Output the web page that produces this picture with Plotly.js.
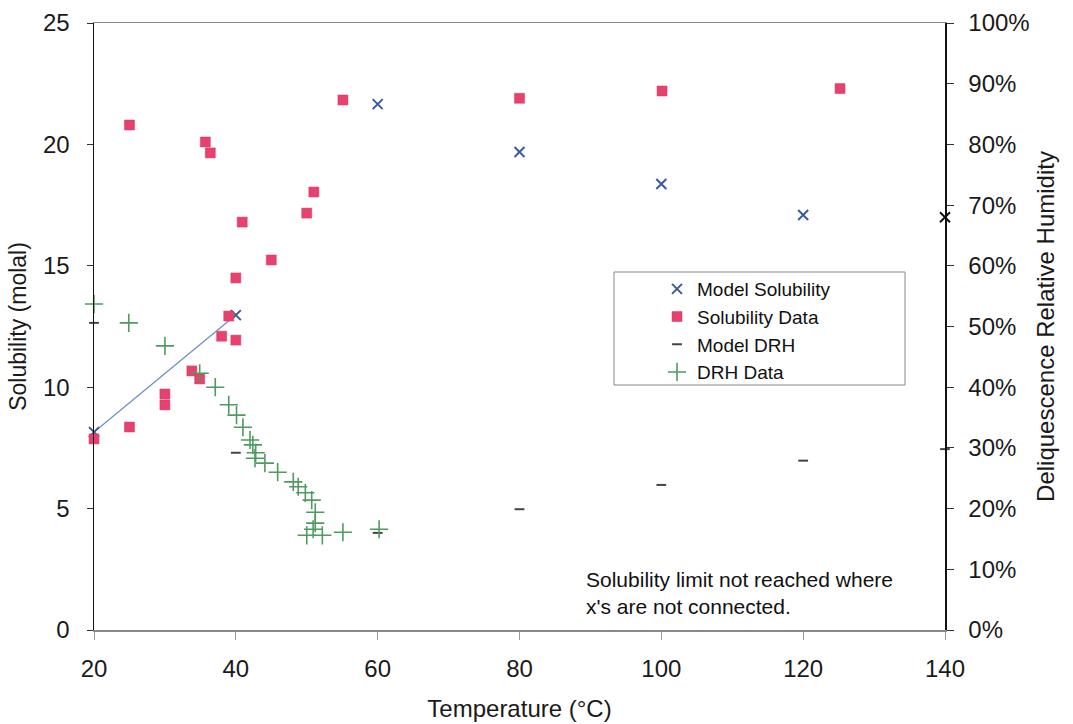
<!DOCTYPE html>
<html>
<head>
<meta charset="utf-8">
<script src="https://cdn.plot.ly/plotly-3.0.1.min.js"></script>
<style>
html,body{margin:0;padding:0;background:#fff;}
#chart{width:1073px;height:724px;}
</style>
</head>
<body>
<div id="chart"></div>
<script>
// Model solubility (molal) vs temperature (°C)
const modelSolT = [20, 40, 60, 80, 100, 120, 140];
const modelSol  = [8.15, 12.97, 21.66, 19.69, 18.37, 17.09, 17.0];
// Temperatures where model x's are connected (solubility limit reached)
const connectedT = [20, 40];

// Solubility data (molal)
const solDataT = [20, 25, 25, 30, 30, 33.8, 34.9, 35.7, 36.4, 38.0, 39.0, 40.0, 40.0, 40.9, 45.0, 50.0, 51.0, 55.1, 80.0, 100.1, 125.2];
const solData  = [7.87, 20.8, 8.36, 9.72, 9.27, 10.67, 10.34, 20.1, 19.65, 12.1, 12.93, 11.94, 14.5, 16.8, 15.24, 17.17, 18.04, 21.83, 21.9, 22.2, 22.3];

// Model DRH (%)
const modelDrhT = [20, 40, 60, 80, 100, 120, 140];
const modelDrh  = [50.6, 29.2, 16.0, 19.9, 23.9, 27.9, 29.8];

// DRH data (%)
const drhDataT = [20, 24.9, 30.0, 34.9, 37.1, 39.0, 40.1, 41.0, 42.0, 42.4, 42.8, 42.7, 44.1, 45.9, 48.1, 48.8, 49.8, 50.7, 51.2, 51.2, 50.9, 50.0, 52.2, 55.1, 60.2];
const drhData  = [53.7, 50.6, 46.8, 42.3, 40.0, 37.1, 35.4, 33.4, 31.3, 30.5, 29.2, 28.3, 27.5, 26.0, 24.4, 23.6, 22.6, 21.4, 19.4, 17.6, 16.6, 15.6, 15.6, 16.1, 16.6];

// Axis ticks
const xTicks = [20, 40, 60, 80, 100, 120, 140];
const yTicks = [0, 5, 10, 15, 20, 25];
const y2Ticks = [0, 10, 20, 30, 40, 50, 60, 70, 80, 90, 100];

const FONT = 'Liberation Sans, Arial, sans-serif';
const BLUE = '#3a5aa0';

const lineX = modelSolT.filter(t => connectedT.includes(t));
const lineY = modelSolT.map((t, i) => connectedT.includes(t) ? modelSol[i] : null).filter(v => v !== null);

const traces = [
  {
    x: lineX, y: lineY, mode: 'lines', type: 'scatter',
    line: {color: '#6b8cc8', width: 1.3}, showlegend: false, hoverinfo: 'skip'
  },
  {
    x: modelSolT, y: modelSol, name: 'Model Solubility', mode: 'markers', type: 'scatter', cliponaxis: false,
    marker: {symbol: 'x-thin-open', size: 10,
      color: modelSolT.map(t => t === 140 ? '#111111' : BLUE),
      line: {width: 2, color: modelSolT.map(t => t === 140 ? '#111111' : BLUE)}}
  },
  {
    x: solDataT, y: solData, name: 'Solubility Data', mode: 'markers', type: 'scatter', cliponaxis: false,
    marker: {symbol: 'square', size: 10, color: '#e8416e', line: {width: 0.5, color: '#d23a62'}}
  },
  {
    x: modelDrhT, y: modelDrh, name: 'Model DRH', mode: 'markers', type: 'scatter', yaxis: 'y2', cliponaxis: false,
    marker: {symbol: 'line-ew-open', size: 7, line: {width: 2, color: '#444444'}, color: '#444444'}
  },
  {
    x: drhDataT, y: drhData, name: 'DRH Data', mode: 'markers', type: 'scatter', yaxis: 'y2', cliponaxis: false,
    marker: {symbol: 'cross-thin-open', size: 13, line: {width: 1.6, color: '#4f9a5f'}, color: '#4f9a5f'}
  }
];

const layout = {
  width: 1073, height: 724,
  margin: {l: 94, r: 128, t: 23, b: 94, pad: 0},
  paper_bgcolor: '#ffffff', plot_bgcolor: '#ffffff',
  font: {family: FONT, size: 20, color: '#1a1a1a'},
  showlegend: true,
  xaxis: {
    range: [20, 140], tickvals: xTicks, ticktext: xTicks.map(String),
    showgrid: false, zeroline: false,
    showline: true, linecolor: '#8a8a8a', linewidth: 1.5, mirror: true,
    ticks: 'outside', ticklen: 8, tickcolor: '#9a9a9a', tickwidth: 1,
    ticklabelstandoff: 9,
    tickfont: {size: 24, family: FONT},
    title: {text: 'Temperature (°C)', font: {size: 24, family: FONT}, standoff: 19}
  },
  yaxis: {
    range: [0, 25], tickvals: yTicks, ticktext: yTicks.map(String),
    showgrid: false, zeroline: false,
    showline: true, linecolor: '#111111', linewidth: 1.5,
    ticks: 'outside', ticklen: 6, tickcolor: '#333', tickwidth: 1,
    ticklabelstandoff: 12,
    tickfont: {size: 24, family: FONT},
    title: {text: 'Solubility (molal)', font: {size: 23, family: FONT}, standoff: 10}
  },
  yaxis2: {
    range: [0, 100], tickvals: y2Ticks, ticktext: y2Ticks.map(v => v + '%'),
    overlaying: 'y', side: 'right',
    showgrid: false, zeroline: false,
    showline: true, linecolor: '#111111', linewidth: 1.5,
    ticks: 'outside', ticklen: 7, tickcolor: '#333', tickwidth: 1,
    ticklabelstandoff: 10,
    tickfont: {size: 24, family: FONT},
    title: {text: 'Deliquescence Relative Humidity', font: {size: 24, family: FONT}, standoff: 8}
  },
  legend: {
    x: (657 - 94) / 851, y: (630 - 270) / 607, xanchor: 'left', yanchor: 'top',
    borderwidth: 0, bgcolor: 'rgba(0,0,0,0)',
    font: {size: 19, family: FONT, color: '#111'},
    tracegroupgap: 0, itemwidth: 30
  },
  shapes: [{
    type: 'rect', xref: 'paper', yref: 'paper',
    x0: (614 - 94) / 851, x1: (905 - 94) / 851,
    y0: (630 - 385) / 607, y1: (630 - 272) / 607,
    line: {color: '#888888', width: 1}, fillcolor: 'rgba(0,0,0,0)', layer: 'below'
  }],
  annotations: [{
    xref: 'paper', yref: 'paper', x: (584 - 94) / 851, y: (630 - 566) / 607, xanchor: 'left', yanchor: 'top',
    align: 'left', showarrow: false,
    text: "Solubility limit not reached where<br>x's are not connected.",
    font: {size: 21, family: FONT, color: '#111'}
  }]
};

Plotly.newPlot('chart', traces, layout, {displayModeBar: false, staticPlot: true});
</script>
</body>
</html>
